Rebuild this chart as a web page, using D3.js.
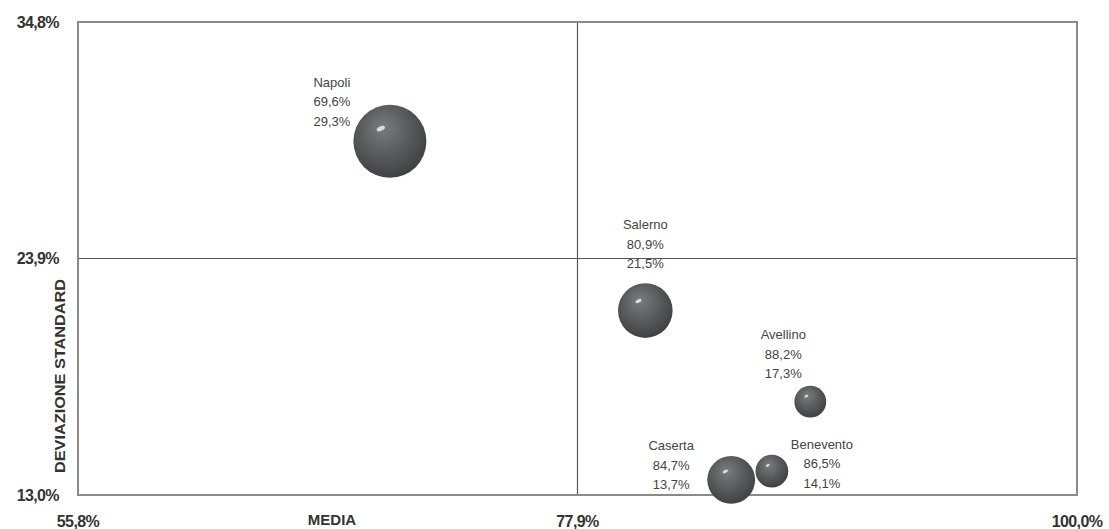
<!DOCTYPE html>
<html><head><meta charset="utf-8">
<script src="https://cdn.jsdelivr.net/npm/d3@7"></script>
<style>body{margin:0;background:#fff}svg{display:block}</style>
</head><body>
<svg id="c" width="1109" height="529"></svg>
<script>
const names = ["Napoli","Salerno","Avellino","Caserta","Benevento"];
const media = [69.6, 80.9, 88.2, 84.7, 86.5];
const devStd = [29.3, 21.5, 17.3, 13.7, 14.1];
const sizes = [100, 56, 19, 43, 20];
const xTicks = [55.8, 77.9, 100.0];
const yTicks = [13.0, 23.9, 34.8];
const xTitle = "MEDIA";
const yTitle = "DEVIAZIONE STANDARD";
// label placement (px offsets from bubble centre) — layout only
const labelDx = [-58, 0, -27, -60, 50];
const labelDy = [-59, -86, -67, -34, -27];

const fmt = v => v.toFixed(1).replace(".", ",") + "%";
const svg = d3.select("#c");
const L = 78, R = 1077, T = 22, B = 495;
const x = d3.scaleLinear().domain([xTicks[0], xTicks[2]]).range([L, R]);
const y = d3.scaleLinear().domain([yTicks[0], yTicks[2]]).range([B, T]);
const r = d3.scaleSqrt().domain([0, d3.max(sizes)]).range([0, 36.5]);

const defs = svg.append("defs");
const g = defs.append("radialGradient").attr("id","ball").attr("cx","45%").attr("cy","40%").attr("r","65%").attr("fx","40%").attr("fy","30%");
g.append("stop").attr("offset","0%").attr("stop-color","#7a7d7d");
g.append("stop").attr("offset","55%").attr("stop-color","#575a5a");
g.append("stop").attr("offset","100%").attr("stop-color","#3c3e3e");

// quadrant lines
svg.append("line").attr("x1", x(xTicks[1])).attr("x2", x(xTicks[1])).attr("y1", T).attr("y2", B)
  .attr("stroke","#555").attr("stroke-width",1.2);
svg.append("line").attr("x1", L).attr("x2", R).attr("y1", y(yTicks[1])).attr("y2", y(yTicks[1]))
  .attr("stroke","#555").attr("stroke-width",1.2);

// frame
svg.append("rect").attr("x", L).attr("y", T).attr("width", R-L).attr("height", B-T)
  .attr("fill","none").attr("stroke","#8a8a8a").attr("stroke-width",2);

const tickFont = "'Liberation Sans Narrow','Liberation Sans',Arial,sans-serif";
// y ticks
svg.append("g").selectAll("text").data(yTicks).join("text")
  .attr("x", 59).attr("y", d => y(d)).attr("dy","0.35em").attr("text-anchor","end")
  .attr("font-family", tickFont).attr("font-weight","bold").attr("font-size",16)
  .attr("fill","#333").attr("letter-spacing","-0.6").text(fmt);
// x ticks
svg.append("g").selectAll("text").data(xTicks).join("text")
  .attr("x", d => x(d)).attr("y", 521).attr("dy","0.35em").attr("text-anchor","middle")
  .attr("font-family", tickFont).attr("font-weight","bold").attr("font-size",16)
  .attr("fill","#333").attr("letter-spacing","-0.6").text(fmt);
// axis titles
svg.append("text").attr("x", 332).attr("y", 520).attr("dy","0.35em").attr("text-anchor","middle")
  .attr("font-family", tickFont).attr("font-weight","bold").attr("font-size",15).attr("fill","#333").text(xTitle);
svg.append("text").attr("transform","translate(60,376) rotate(-90)").attr("text-anchor","middle").attr("dy","0.35em")
  .attr("font-family", tickFont).attr("font-weight","bold").attr("font-size",14).attr("fill","#333")
  .attr("textLength",194).attr("lengthAdjust","spacingAndGlyphs").text(yTitle);

const data = names.map((n,i) => ({n, mx: media[i], sd: devStd[i], s: sizes[i], dx: labelDx[i], dy: labelDy[i]}));

// bubbles
const bg = svg.append("g");
data.forEach(d => {
  const cx = x(d.mx), cy = y(d.sd), rr = r(d.s);
  bg.append("circle").attr("cx", cx).attr("cy", cy).attr("r", rr).attr("fill","url(#ball)");
  bg.append("ellipse").attr("cx", cx - rr*0.25).attr("cy", cy - rr*0.35).attr("rx", Math.max(2, rr*0.12)).attr("ry", Math.max(1.2, rr*0.06))
    .attr("transform", `rotate(-25 ${cx - rr*0.25} ${cy - rr*0.35})`).attr("fill","#e8e8e8").attr("opacity",0.9);
});

// labels
const lg = svg.append("g").attr("font-family","'Liberation Sans',Arial,sans-serif").attr("font-size",13).attr("fill","#444").attr("text-anchor","middle");
data.forEach(d => {
  const lx = x(d.mx) + d.dx, ly = y(d.sd) + d.dy;
  [d.n, fmt(d.mx), fmt(d.sd)].forEach((t, k) => {
    lg.append("text").attr("x", lx).attr("y", ly + k*19.5).attr("dy","0.35em").text(t);
  });
});
</script>
</body></html>
